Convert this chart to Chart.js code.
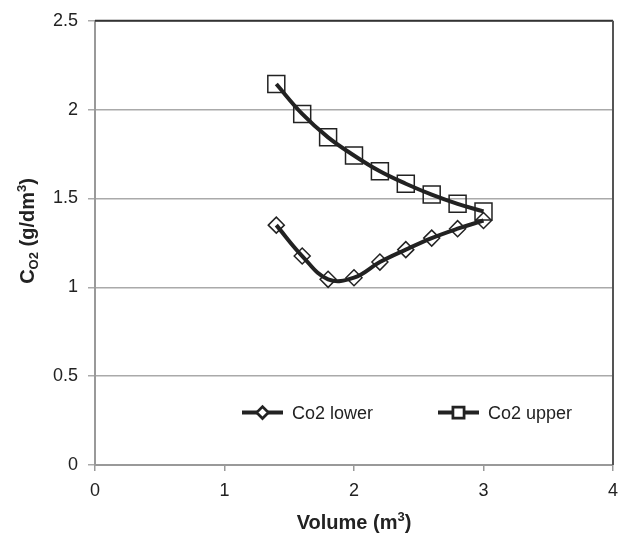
<!DOCTYPE html>
<html lang="en">
<head>
    <meta charset="UTF-8">
    <title>CO2 vs Volume</title>
    <script src="https://cdn.jsdelivr.net/npm/chart.js"></script>
    <style>
        body {
            background-color: #ffffff;
            margin: 0;
            padding: 0;
        }
        .chart-container {
            width: 621px;
            height: 534px;
        }
    </style>
</head>
<body>
    <div class="chart-container">
        <canvas id="co2Chart" width="621" height="534"></canvas>
    </div>

    <script>
        // values
        const volumes = [1.4, 1.6, 1.8, 2.0, 2.2, 2.4, 2.6, 2.8, 3.0];
        const co2Lower = [1.35, 1.176, 1.045, 1.054, 1.142, 1.212, 1.277, 1.33, 1.376];
        const co2Upper = [2.144, 1.976, 1.844, 1.742, 1.653, 1.583, 1.522, 1.47, 1.427];
        const seriesNames = ["Co2 lower", "Co2 upper"];
        const xTicks = [0, 1, 2, 3, 4];
        const yTicks = [0, 0.5, 1, 1.5, 2, 2.5];

        const FONT = "'Liberation Sans', Arial, sans-serif";
        const INK = "#222222";

        function toPoints(ys) {
            return volumes.map((v, i) => ({ x: v, y: ys[i] }));
        }

        // legend sits inside the plot, like the Excel original
        const innerLegend = {
            id: "innerLegend",
            afterDraw(chart) {
                const ctx = chart.ctx;
                const area = chart.chartArea;
                const y = area.top + (area.bottom - area.top) * 0.882;
                const starts = [242, 438];
                chart.data.datasets.forEach((ds, i) => {
                    const x0 = starts[i];
                    ctx.save();
                    ctx.strokeStyle = ds.borderColor;
                    ctx.lineWidth = 4;
                    ctx.beginPath();
                    ctx.moveTo(x0, y);
                    ctx.lineTo(x0 + 41, y);
                    ctx.stroke();
                    Chart.helpers.drawPoint(ctx, {
                        pointStyle: ds.pointStyle,
                        radius: i === 0 ? 5 : 7,
                        borderWidth: 1.5
                    }, x0 + 20.5, y);
                    ctx.fillStyle = "#ffffff";
                    ctx.strokeStyle = ds.pointBorderColor;
                    ctx.lineWidth = 1.5;
                    ctx.fill();
                    ctx.stroke();
                    ctx.fillStyle = INK;
                    ctx.font = "18px " + FONT;
                    ctx.textBaseline = "middle";
                    ctx.textAlign = "left";
                    ctx.fillText(seriesNames[i], x0 + 50, y + 1);
                    ctx.restore();
                });
            }
        };

        // axis titles with sub/superscripts, plus the dark top and right frame
        const axisTitles = {
            id: "axisTitles",
            afterDraw(chart) {
                const ctx = chart.ctx;
                const area = chart.chartArea;

                ctx.save();
                ctx.strokeStyle = "#333333";
                ctx.lineWidth = 2;
                ctx.beginPath();
                ctx.moveTo(area.left, area.top);
                ctx.lineTo(area.right, area.top);
                ctx.stroke();
                ctx.strokeStyle = "#555555";
                ctx.beginPath();
                ctx.moveTo(area.right, area.top);
                ctx.lineTo(area.right, area.bottom);
                ctx.stroke();
                ctx.restore();

                function drawParts(parts, cx, cy, rotate) {
                    ctx.save();
                    ctx.translate(cx, cy);
                    if (rotate) ctx.rotate(-Math.PI / 2);
                    ctx.fillStyle = INK;
                    ctx.textBaseline = "alphabetic";
                    ctx.textAlign = "left";
                    let total = 0;
                    parts.forEach(p => {
                        ctx.font = "bold " + p[1] + "px " + FONT;
                        total += ctx.measureText(p[0]).width;
                    });
                    let x = -total / 2;
                    parts.forEach(p => {
                        ctx.font = "bold " + p[1] + "px " + FONT;
                        ctx.fillText(p[0], x, p[2]);
                        x += ctx.measureText(p[0]).width;
                    });
                    ctx.restore();
                }

                drawParts([["Volume (m", 20, 0], ["3", 13, -8], [")", 20, 0]],
                    (area.left + area.right) / 2, 529, false);
                drawParts([["C", 20, 0], ["O2", 13, 4], [" (g/dm", 20, 0], ["3", 13, -8], [")", 20, 0]],
                    34, 231, true);
            }
        };

        const datasets = [
            {
                label: seriesNames[0],
                data: toPoints(co2Lower),
                borderColor: INK,
                borderWidth: 4,
                tension: 0.4,
                pointStyle: "rectRot",
                pointRadius: 8,
                pointHoverRadius: 8,
                pointBorderWidth: 1.5,
                pointBorderColor: INK,
                pointBackgroundColor: "rgba(0,0,0,0)"
            },
            {
                label: seriesNames[1],
                data: toPoints(co2Upper),
                borderColor: INK,
                borderWidth: 4,
                tension: 0.4,
                pointStyle: "rect",
                pointRadius: 12,
                pointHoverRadius: 12,
                pointBorderWidth: 1.5,
                pointBorderColor: INK,
                pointBackgroundColor: "rgba(0,0,0,0)"
            }
        ];

        new Chart(document.getElementById("co2Chart"), {
            type: "line",
            data: { datasets },
            options: {
                responsive: false,
                animation: false,
                clip: false,
                layout: {
                    autoPadding: false,
                    padding: { top: 20, right: 8, left: 0, bottom: 0 }
                },
                plugins: {
                    legend: { display: false },
                    tooltip: { enabled: false }
                },
                scales: {
                    x: {
                        type: "linear",
                        min: xTicks[0],
                        max: xTicks[xTicks.length - 1],
                        afterBuildTicks: scale => { scale.ticks = xTicks.map(v => ({ value: v })); },
                        afterFit: scale => {
                            scale.height = 69;
                            scale.paddingLeft = 0;
                            scale.paddingRight = 0;
                        },
                        ticks: {
                            color: INK,
                            font: { family: FONT, size: 18 },
                            padding: 9,
                            callback: v => String(v)
                        },
                        grid: {
                            drawOnChartArea: false,
                            drawTicks: true,
                            tickLength: 6,
                            color: "#999999",
                            lineWidth: 1.5
                        },
                        border: { color: "#999999", width: 2 }
                    },
                    y: {
                        min: yTicks[0],
                        max: yTicks[yTicks.length - 1],
                        afterBuildTicks: scale => { scale.ticks = yTicks.map(v => ({ value: v })); },
                        afterFit: scale => { scale.width = 95; },
                        ticks: {
                            color: INK,
                            font: { family: FONT, size: 18 },
                            padding: 10,
                            callback: v => String(v)
                        },
                        grid: {
                            color: "#aaaaaa",
                            lineWidth: 1.5,
                            tickLength: 7
                        },
                        border: { color: "#999999", width: 2 }
                    }
                }
            },
            plugins: [innerLegend, axisTitles]
        });
    </script>
</body>
</html>
